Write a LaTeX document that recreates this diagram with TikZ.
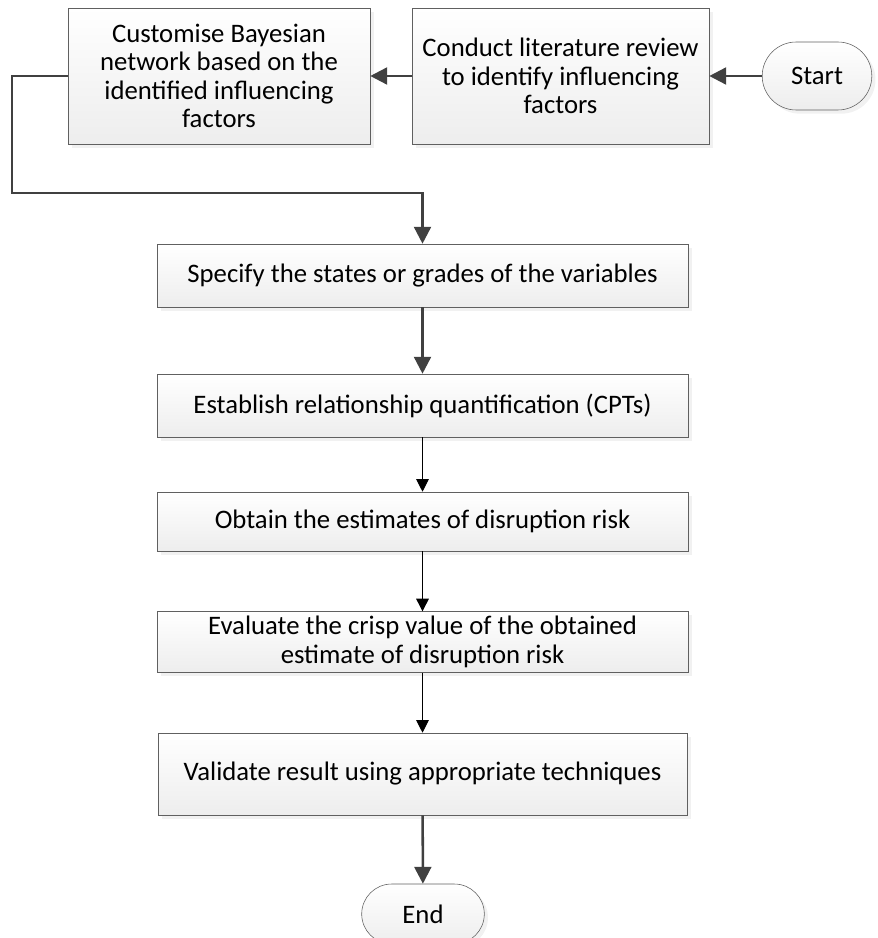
\documentclass[tikz,border=0pt]{standalone}
\usepackage{fontspec}
\setmainfont{Carlito}
\usetikzlibrary{shapes,arrows.meta,shadows}

\tikzset{
    stepbox/.style={draw=gray!75!black, rectangle, align=center, top color=white, bottom color=gray!14,
        drop shadow={shadow xshift=2.6pt, shadow yshift=-2.6pt, fill=gray!22}, font=\fontsize{19}{20.3}\selectfont},
    terminal/.style={stepbox, shape=rounded rectangle},
    thickarrow/.style={draw=black!75, line width=1.8pt, -{Triangle[length=12pt, width=12pt]}},
    thinarrow/.style={draw=black, line width=0.7pt, -{Triangle[length=9pt, width=9pt]}}
}

\begin{document}
\begin{tikzpicture}[x=0.025cm, y=-0.025cm]

    \useasboundingbox (0,0) rectangle (878,938);

    % top row
    \node[stepbox, minimum width=302*0.025cm, minimum height=136*0.025cm] (custom) at (219, 76)
        {Customise Bayesian\\network based on the\\identified influencing\\factors};
    \node[stepbox, minimum width=297*0.025cm, minimum height=136*0.025cm] (review) at (560.5, 76)
        {Conduct literature review\\to identify influencing\\factors};
    \node[terminal, minimum width=119*0.025cm, minimum height=68*0.025cm] (start) at (817, 76) {Start};

    % main column
    \node[stepbox, minimum width=531*0.025cm, minimum height=63*0.025cm] (states) at (422.5, 275.5)
        {Specify the states or grades of the variables};
    \node[stepbox, minimum width=531*0.025cm, minimum height=63*0.025cm] (cpts) at (422.5, 405.5)
        {Establish relationship quantification (CPTs)};
    \node[stepbox, minimum width=531*0.025cm, minimum height=59*0.025cm] (obtain) at (422.5, 521.5)
        {Obtain the estimates of disruption risk};
    \node[stepbox, minimum width=531*0.025cm, minimum height=60*0.025cm] (crisp) at (422.5, 642)
        {Evaluate the crisp value of the obtained\\estimate of disruption risk};
    \node[stepbox, minimum width=529*0.025cm, minimum height=82*0.025cm] (validate) at (422.5, 774)
        {Validate result using appropriate techniques};
    \node[terminal, minimum width=132*0.025cm, minimum height=60*0.025cm] (end) at (423, 914) {End};

    \coordinate (bend) at (12, 193);

    % connectors
    \draw[thickarrow] (start) -- (review);
    \draw[thickarrow] (review) -- (custom);
    \draw[thickarrow] (custom.west) -| (bend) -| (states.north);
    \draw[thickarrow] (states) -- (cpts);
    \draw[thinarrow] (cpts) -- (obtain);
    \draw[thinarrow] (obtain) -- (crisp);
    \draw[thinarrow] (crisp) -- (validate);
    \draw[thickarrow] (validate) -- (end);

\end{tikzpicture}
\end{document}
